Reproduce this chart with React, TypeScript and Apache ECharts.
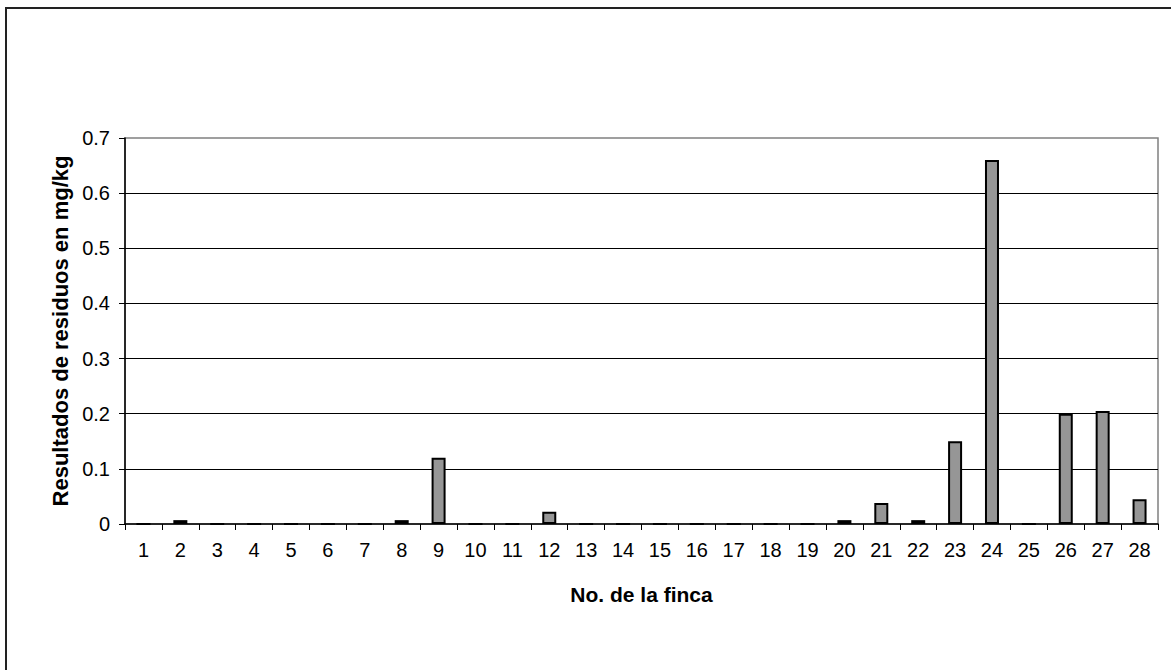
import React, { useEffect, useRef } from "react";
import * as echarts from "echarts";

// Farm numbers along the x axis
const fincas: string[] = Array.from({ length: 28 }, (_, i) => String(i + 1));

// Residue results (mg/kg) per farm
const residuos: number[] = [
  0, 0.007, 0, 0, 0, 0, 0, 0.007, 0.12, 0, 0, 0.022, 0, 0,
  0, 0, 0, 0, 0, 0.007, 0.038, 0.007, 0.15, 0.66, 0, 0.2, 0.205, 0.045,
];

const yTicks = { min: 0, max: 0.7, interval: 0.1 };

const FONT = "'Liberation Sans', Arial, sans-serif";

export default function App() {
  const ref = useRef<HTMLDivElement>(null);

  useEffect(() => {
    if (!ref.current) return;
    const chart = echarts.init(ref.current, null, { renderer: "svg" });
    chart.setOption({
      animation: false,
      backgroundColor: "#ffffff",
      textStyle: { fontFamily: FONT },
      grid: {
        left: 125,
        right: 13,
        top: 138,
        bottom: 146,
        show: true,
        borderColor: "#808080",
        borderWidth: 1.5,
        backgroundColor: "transparent",
      },
      graphic: [
        {
          type: "rect",
          shape: { x: 6, y: 8, width: 1200, height: 700 },
          style: { fill: "none", stroke: "#222", lineWidth: 2 },
          silent: true,
        },
      ],
      xAxis: {
        type: "category",
        data: fincas,
        name: "No. de la finca",
        nameLocation: "middle",
        nameGap: 60,
        nameTextStyle: { fontFamily: FONT, fontWeight: "bold", fontSize: 21, color: "#000" },
        axisLine: { lineStyle: { color: "#000", width: 1.5 } },
        axisTick: { show: true, length: 6, interval: 0, lineStyle: { color: "#000", width: 1 } },
        axisLabel: { fontFamily: FONT, fontSize: 20, color: "#000", margin: 16, interval: 0 },
      },
      yAxis: {
        type: "value",
        ...yTicks,
        name: "Resultados de residuos en mg/kg",
        nameLocation: "middle",
        nameGap: 54,
        nameTextStyle: { fontFamily: FONT, fontWeight: "bold", fontSize: 22, color: "#000" },
        axisLine: { show: true, lineStyle: { color: "#000", width: 1.5 } },
        axisTick: { show: true, length: 6, lineStyle: { color: "#000", width: 1 } },
        axisLabel: {
          fontFamily: FONT,
          fontSize: 20,
          color: "#000",
          margin: 15,
          formatter: (v: number) => (v === 0 ? "0" : v.toFixed(1)),
        },
        splitLine: {
          show: true,
          showMinLine: false,
          showMaxLine: false,
          lineStyle: { color: "#000", width: 1 },
        },
      },
      series: [
        {
          type: "bar",
          data: residuos,
          barWidth: 14,
          itemStyle: { color: "#969696", borderColor: "#000", borderWidth: 2 },
        },
      ],
    });
    return () => chart.dispose();
  }, []);

  return (
    <div
      ref={ref}
      style={{ position: "fixed", left: 0, top: 0, width: 1171, height: 670, background: "#fff" }}
    />
  );
}
